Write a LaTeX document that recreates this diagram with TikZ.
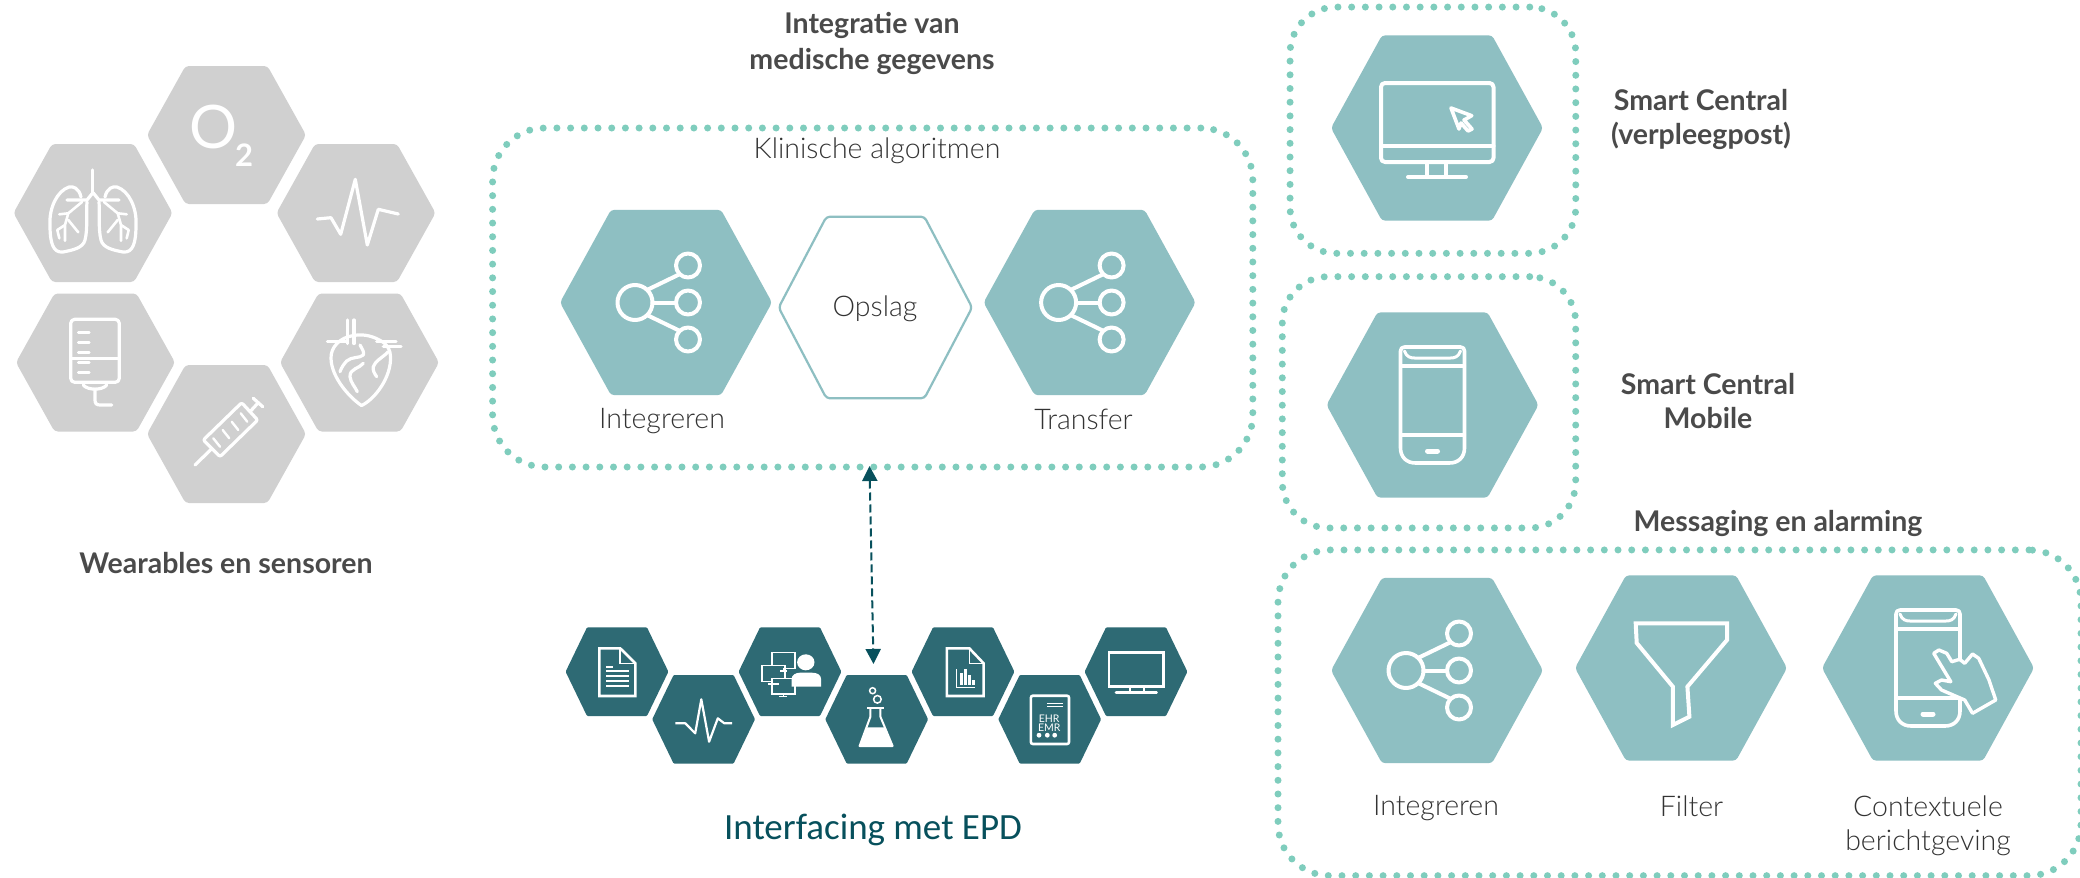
\documentclass[tikz,border=0pt]{standalone}
\usepackage{fontspec}
\usetikzlibrary{arrows.meta}
\setmainfont{Lato}
\newfontfamily\lightf{Lato}[UprightFont=* Light]
\newfontfamily\calib{Carlito}
\definecolor{tealL}{HTML}{8EBFC2}
\definecolor{tealD}{HTML}{2E6A74}
\definecolor{dotc}{HTML}{7FCDBD}
\definecolor{grayH}{HTML}{D0D0D0}
\definecolor{txt}{HTML}{4A4A4A}
\definecolor{txtL}{HTML}{333333}
\definecolor{arrowc}{HTML}{07505C}
\def\hexr{3.5pt}
\tikzset{
  x=1pt,y=-1pt,
  hexshape/.style={line join=round,rounded corners=\hexr},
  dotbox/.style={draw=dotc,line width=7pt,line cap=round,dash pattern=on 0pt off 13.7pt,rectangle,inner sep=0pt,outer sep=0pt},
  ic/.style={draw=white,line width=4pt,line cap=round,line join=round},
  icg/.style={draw=white,line width=3.2pt,line cap=round,line join=round},
  icd/.style={draw=white,line width=2.6pt,line join=miter},
  heading/.style={font=\bfseries\fontsize{28.5}{34}\selectfont,text=txt,align=center,inner sep=0pt},
  body/.style={font=\lightf\fontsize{28.5}{34.5}\selectfont,text=txtL,align=center,inner sep=0pt},
  share/.pic={
    \draw[ic] (-31,0) circle[radius=17.5];
    \foreach \yy in {-37,0,37} \draw[ic] (22,\yy) circle[radius=12];
    \draw[ic] (-18,-13) -- (13,-28);
    \draw[ic] (-13.5,0) -- (10,0);
    \draw[ic] (-18,13) -- (13,28);
  },
  phone/.pic={
    \draw[ic,line width=3.6pt] (-32,-54) .. controls (-32,-56.5) and (-30.5,-58) .. (-28,-58) -- (28,-58) .. controls (30.5,-58) and (32,-56.5) .. (32,-54) -- (32,43) .. controls (32,52) and (26,58) .. (17,58) -- (-17,58) .. controls (-26,58) and (-32,52) .. (-32,43) -- cycle;
    \draw[ic,line width=3.2pt] (-32,-39) -- (32,-39);
    \draw[ic,line width=3.2pt] (-32,30) -- (32,30);
    \draw[ic,line width=3pt] (-28,-54) .. controls (-26,-48) and (-22,-47) .. (-18,-47) -- (18,-47) .. controls (22,-47) and (26,-48) .. (28,-54);
    \draw[ic,line width=5pt] (-5,46) -- (5,46);
  },
}
\newcommand\hexa[8]{%
  \path[hexshape,fill=#7,draw=#8,shift={(#2,#3)}] (-#4,0) -- (-#6,-#5) -- (#6,-#5) -- (#4,0) -- (#6,#5) -- (-#6,#5) -- cycle;
  \coordinate (#1) at (#2,#3);}
\newcommand\ghex[3]{\hexa{#1}{#2}{#3}{79.5}{69}{41}{grayH}{none}}
\newcommand\dhex[3]{\def\hexr{1pt}\hexa{#1}{#2}{#3}{51.4}{44.3}{30}{tealD}{none}\def\hexr{3.5pt}}
\newcommand\lhex[3]{\hexa{#1}{#2}{#3}{106}{92.7}{55}{tealL}{none}}
\begin{document}
\begin{tikzpicture}
\useasboundingbox (0,0) rectangle (2080,878);
\fill[white] (0,0) rectangle (2080,878);
\clip (0,0) rectangle (2080,878);

% ---- wearables
\ghex{gO}{226.5}{135}
\ghex{gLung}{93}{213}
\ghex{gEcg}{356}{213}
\ghex{gIv}{95.5}{362.5}
\ghex{gHeart}{359.5}{362.5}
\ghex{gSyr}{226.5}{434}
\node[text=white,inner sep=0pt,font=\fontsize{60}{60}\selectfont] (oxy) at (213.8,127) {O};
\node[text=white,inner sep=0pt,font=\bfseries\fontsize{31}{31}\selectfont] (oxyb) at (244,155.3) {2};
% lungs
\begin{scope}[shift={(gLung)}]
  \draw[icg] (-0.3,-43) -- (-0.3,-20);
  \foreach \s in {1,-1}{
  \begin{scope}[xscale=\s]
    \draw[icg] (-0.3,-20) -- (-6,-13) -- (-26,-13);
    \draw[icg] (-12,-16) .. controls (-14,-25) and (-20,-27) .. (-24,-26) .. controls (-36,-22) and (-44,-5) .. (-43,12) .. controls (-43,30) and (-40,40) .. (-30,39) .. controls (-20,37) and (-10,35) .. (-8,27) .. controls (-5,15) and (-7,0) .. (-6,-11);
    \draw[icg,line width=2.6pt] (-11,-11) -- (-24.7,0.3) -- (-33.7,1.3);
    \draw[icg,line width=2.6pt] (-24.7,0.3) -- (-28,12) -- (-28,27.7);
    \draw[icg,line width=2.6pt] (-28,12) -- (-35.7,17) -- (-33.7,25.3);
    \draw[icg,line width=2.6pt] (-24.7,7) -- (-14.7,19.3);
  \end{scope}}
\end{scope}
% ecg grey
\draw[icg,shift={(gEcg)}] (-38.7,6) -- (-25,4.7) -- (-15.3,21.3) -- (-0.7,-33.7) -- (11.3,32) -- (22.3,-3.7) -- (42.3,1);
% iv bag
\begin{scope}[shift={(gIv)}]
  \draw[icg,rounded corners=4pt] (-24.8,-43.2) rectangle (23.8,19.8);
  \draw[icg] (-24.8,-4.2) -- (23.8,-4.2);
  \foreach \yy in {-30.2,-20.2,-10.2,-0.2,9.8} \draw[icg,line width=2.6pt] (-17.2,\yy) -- (-6.2,\yy);
  \draw[icg] (-12.2,22.5) .. controls (-8,28) and (7,28) .. (11.2,22.5);
  \draw[icg] (-0.5,27.5) -- (-0.5,37.5) .. controls (-0.5,41) and (1,42.5) .. (4.5,42.5) -- (16.2,42.5);
\end{scope}
% heart
\begin{scope}[shift={(gHeart)}]
  \draw[icg] (-6,-27) .. controls (-20,-25) and (-29,-15) .. (-28.5,-4) .. controls (-28,15) and (-10,35) .. (2,43) .. controls (15,37) and (32,15) .. (31,-6) .. controls (31,-12) and (28,-17) .. (24,-20) .. controls (15,-26) and (5,-29) .. (-6,-27);
  \draw[icg] (-12.2,-42.5) -- (-12.2,-19);
  \draw[icg] (-5.5,-42.5) -- (-5.5,-19);
  \draw[icg] (-32,-20.8) -- (-12.8,-20.8);
  \draw[icg] (17.2,-20.8) -- (36.5,-20.8);
  \draw[icg] (23.8,-15.8) -- (41.5,-15.8);
  \draw[icg] (0.5,-17.5) .. controls (3,-13) and (5,-10) .. (3.8,-7.5) .. controls (0,-4) and (-8,-6) .. (-12.8,-1.5) .. controls (-16,2) and (-18,5) .. (-19.5,9.2);
  \draw[icg] (3.8,0.8) .. controls (0,6) and (-10,6) .. (-9.5,14.2) .. controls (-9,20) and (-4,25) .. (-2.2,29.2);
  \draw[icg] (28.8,-10.8) .. controls (22,-4) and (16,-2) .. (13.8,4.2) .. controls (13,8) and (15,11) .. (17.2,14.2);
\end{scope}
% syringe
\begin{scope}[shift={(gSyr)}]
  \draw[icg] (-31.5,31) -- (-15,15);
  \draw[icg,rounded corners=2pt] (-23.2,6) -- (-6.5,22.7) -- (31.2,-14) -- (15.2,-31.3) -- cycle;
  \draw[icg] (23.5,-22.3) -- (31.8,-31.3);
  \draw[icg] (26.8,-35.7) -- (36.2,-27.3);
  \draw[icg,line width=2.4pt] (-13.2,4.3) -- (-6.5,12.7);
  \draw[icg,line width=2.4pt] (-3.8,-4) -- (2.8,4.3);
  \draw[icg,line width=2.4pt] (5.2,-12.3) -- (11.8,-4);
  \draw[icg,line width=2.4pt] (14.2,-20.7) -- (20.8,-12.3);
\end{scope}
\node[heading] (tWear) at (226,563) {Wearables en sensoren};

% ---- klinische algoritmen
\node[heading,font=\bfseries\fontsize{28.5}{36}\selectfont] (tInt) at (872,43.5) {Integratie van\\medische gegevens};
\node[dotbox,rounded corners=52pt,minimum width=760.2pt,minimum height=339pt] (klin) at (872.7,297.5) {};
\node[body] (tKlin) at (877,151) {Klinische algoritmen};
\lhex{hInt}{666}{302.5}
\pic at (hInt) {share};
\hexa{hOps}{875.4}{307.5}{96.7}{90.8}{49}{white}{tealL}
\path[hexshape,draw=tealL,line width=2.2pt,shift={(hOps)}] (-96.7,0) -- (-49,-90.8) -- (49,-90.8) -- (96.7,0) -- (49,90.8) -- (-49,90.8) -- cycle;
\lhex{hTra}{1089.6}{302.5}
\pic at (hTra) {share};
\node[body] (lInt) at (662,421) {Integreren};
\node[body] (lOps) at (875,309) {Opslag};
\node[body] (lTra) at (1083.5,419) {Transfer};

% ---- EPD hexes
\dhex{d1}{617}{671.7}
\dhex{d2}{703.6}{719.3}
\dhex{d3}{790}{671.7}
\dhex{d4}{876.7}{719.3}
\dhex{d5}{963}{671.7}
\dhex{d6}{1049.7}{719.3}
\dhex{d7}{1136}{671.7}
% doc
\begin{scope}[shift={(d1)}]
  \draw[icd] (3.2,-23.4) -- (-17.6,-23.4) -- (-17.6,24.3) -- (18.4,24.3) -- (18.4,-8.4) -- cycle;
  \draw[icd,line width=1.6pt] (3.2,-23.4) -- (3.2,-8.4) -- (18.4,-8.4);
  \draw[icd,line width=1.8pt] (-11,-5) -- (-4.1,-5);
  \foreach \yy in {-0.7,4.3,9.3,14.3} \draw[icd,line width=1.8pt] (-11,\yy) -- (11.9,\yy);
\end{scope}
% ecg
\draw[icd,line width=2.2pt,line join=round,shift={(d2)}] (-28.3,4) -- (-18.3,4) -- (-8.4,14) -- (-2.3,-20) -- (5.5,22.4) -- (14.2,-1) -- (20.7,4) -- (28.5,4);
% people & monitors
\begin{scope}[shift={(d3)}]
  \foreach \mx/\my in {-18/-19,-28/-6,-18/6.6}{
    \draw[draw=white,fill=tealD,line width=1.5pt] (\mx,\my) rectangle +(23,15.7);
  }
  \draw[icd,line width=1.5pt] (-10,-0.7) -- (-3,-0.7);
  \draw[icd,line width=1.5pt] (-6.5,-3.4) -- (-6.5,-0.7);
  \draw[icd,line width=1.5pt] (-22,12.5) -- (-11,12.5);
  \draw[icd,line width=1.5pt] (-10.6,25) -- (-2.8,25);
  \draw[icd,line width=1.5pt] (-6.5,22.3) -- (-6.5,25);
  \fill[white] (15.8,-9.4) ellipse[x radius=8.7,y radius=8];
  \fill[white] (1.5,15) -- (1.5,7) .. controls (2,3) and (6,1) .. (10,1) -- (22,1) .. controls (27,1) and (31,3) .. (31,7) -- (31,15) -- cycle;
\end{scope}
% flask
\begin{scope}[shift={(d4)}]
  \draw[icd,line width=1.5pt] (-4.1,-28.6) circle[radius=3];
  \draw[icd,line width=1.5pt] (0.7,-20) circle[radius=3.8];
  \draw[icd,line width=2pt,line join=round] (-9.3,-11.6) -- (6.8,-11.6);
  \draw[icd,line width=2pt,line join=round] (-6.3,-11) -- (-6.3,-2.6) -- (-17.1,26.7) -- (15.9,26.7) -- (3.7,-2.6) -- (3.7,-11);
  \fill[white] (-10.2,8) -- (8.1,8) -- (15.9,26.7) -- (-17.1,26.7) -- cycle;
\end{scope}
% doc with chart
\begin{scope}[shift={(d5)}]
  \draw[icd] (6.3,-23.4) -- (-16.2,-23.4) -- (-16.2,24.3) -- (20.6,24.3) -- (20.6,-8.4) -- cycle;
  \draw[icd,line width=1.6pt] (6.3,-23.4) -- (6.3,-8.4) -- (20.6,-8.4);
  \draw[icd,line width=1.2pt] (-6.7,-2.4) -- (-6.7,15.6) -- (12,15.6);
  \fill[white] (-3.5,1.6) rectangle (-0.5,13.3);
  \fill[white] (0.8,-2.4) rectangle (3.8,13.3);
  \fill[white] (5,3.3) rectangle (8,13.3);
  \fill[white] (9,8.3) rectangle (12,13.3);
\end{scope}
% tablet
\begin{scope}[shift={(d6)}]
  \draw[icd,rounded corners=2pt] (-18.8,-23.6) rectangle (19.3,24.7);
  \draw[icd,line width=1.3pt] (-2.4,-16) -- (12.9,-16);
  \draw[icd,line width=1.3pt] (-2.4,-12.6) -- (12.9,-12.6);
  \node[text=white,inner sep=0pt,font=\fontsize{10.5}{10.5}\selectfont] (ehr) at (-0.5,-0.3) {EHR};
  \node[text=white,inner sep=0pt,font=\fontsize{10.5}{10.5}\selectfont] (emr) at (-0.5,8.4) {EMR};
  \foreach \xx in {-10.7,-2.4,5} \fill[white] (\xx,15.9) circle[radius=2.4];
\end{scope}
% screen
\begin{scope}[shift={(d7)}]
  \draw[icd] (-27,-19.4) rectangle (27.6,15);
  \draw[icd,line width=2pt] (-6.2,15) -- (-6.2,20);
  \draw[icd,line width=2pt] (7.6,15) -- (7.6,20);
  \draw[icd,line cap=round] (-20,20.5) -- (20.6,20.5);
\end{scope}
\node[inner sep=0pt,text=arrowc,font=\calib\fontsize{37}{37}\selectfont] (tEpd) at (873,830) {Interfacing met EPD};
\coordinate (arrTop) at (869.5,466);
\coordinate (arrBot) at (873.5,664);
\draw[arrowc,line width=2pt,dash pattern=on 8pt off 4pt,{Triangle[length=15pt,width=15pt]}-{Triangle[length=15pt,width=15pt]}] (arrTop) -- (arrBot);

% ---- smart central
\node[dotbox,rounded corners=46pt,minimum width=285.7pt,minimum height=246.3pt] (box1) at (1432.9,130.2) {};
\lhex{hMon}{1437}{128}
\begin{scope}[shift={(hMon)}]
  \draw[ic,rounded corners=4pt] (-56,-45) rectangle (56.5,34);
  \draw[ic] (-56,18) -- (56.5,18);
  \draw[ic] (-9.7,34) -- (-9.7,49);
  \draw[ic] (9,34) -- (9,49);
  \draw[ic] (-29,49) -- (29,49);
  \draw[ic,line width=3.6pt] (22,1) -- (14,-20) -- (34.7,-12.3) -- (27,-8) -- (35,1) -- (31,3) -- (24,-5) -- cycle;
\end{scope}
\node[heading] (tSc) at (1701,119) {Smart Central\\(verpleegpost)};

\node[dotbox,rounded corners=46pt,minimum width=293.4pt,minimum height=251.3pt] (box2) at (1429,402.3) {};
\lhex{hPho}{1432.5}{405}
\pic at (hPho) {phone};
\node[heading] (tMob) at (1708,401) {Smart Central\\Mobile};

% ---- messaging
\node[heading] (tMsg) at (1778,523) {Messaging en alarming};
\node[dotbox,rounded corners=52pt,minimum width=803pt,minimum height=325.7pt] (box3) at (1679.5,712.8) {};
\lhex{hI2}{1437}{670.5}
\pic at (hI2) {share};
\lhex{hFil}{1681}{668}
\draw[ic,line join=miter,line cap=butt,shift={(hFil)}] (-45.3,-44.7) -- (46,-44.7) -- (46,-28) -- (6.4,18.7) -- (8.4,48.7) -- (-8.1,57) -- (-8.1,18.7) -- (-44.3,-25) -- cycle;
\lhex{hCon}{1928}{668}
\pic at (hCon) {phone};
\draw[ic,line width=3.4pt,fill=tealL,shift={(hCon)}] (5.7,-14.7) -- (10.9,-18) -- (18.7,-14.7) -- (23.8,-6.3) -- (31.6,-8.7) -- (36.7,-4.7) -- (44.5,-14) -- (50.7,-9.7) -- (61,12) -- (67.7,32) -- (44.5,45.3) -- (36.7,32) -- (13.5,22) -- (7.3,15.3) -- (13.5,12) -- (22.8,13.7) -- cycle;
\node[body] (lI2) at (1436,808) {Integreren};
\node[body] (lFil) at (1691.5,806) {Filter};
\node[body] (lCon) at (1928,826) {Contextuele\\berichtgeving};
\end{tikzpicture}
\end{document}
